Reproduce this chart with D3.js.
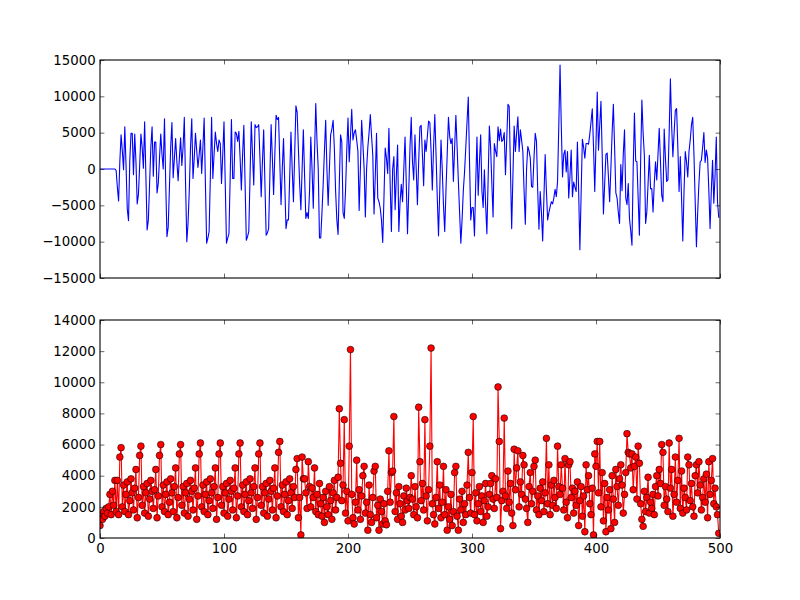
<!DOCTYPE html>
<html>
<head>
<meta charset="utf-8">
<script src="https://cdn.jsdelivr.net/npm/d3@7"></script>
<style>
  body { margin: 0; background: #fff; }
  svg { display: block; }
  .tick text { font-family: "DejaVu Sans", sans-serif; font-size: 13.3px; fill: #000; }
  .tick line { stroke: #000; stroke-width: 0.6; }
</style>
</head>
<body>
<svg id="chart" width="800" height="600"></svg>
<script>
// top panel signal, one value per sample
var topValues = [
  0,0,0,0,0,0,0,0,0,0,
  0,0,0,-200,-2500,-4400,1000,4700,2500,-100,
  5800,500,-5500,-7100,1000,4900,4900,-800,4800,1000,
  -4800,-3500,500,4800,3000,100,6500,-1000,-8400,-7000,
  -2000,3000,5800,-1000,3700,3700,-3300,-2000,1500,4800,
  2000,0,6900,-2000,-9300,-8000,-2500,3000,6400,-1200,
  1500,4200,1000,-1600,1500,4300,500,3000,7100,-2000,
  -10000,-7500,-3000,3000,6900,-1300,1500,4900,2500,200,
  2000,4000,-600,3000,7000,-2000,-10200,-9500,-8600,-1000,
  7100,-1300,2000,5100,3500,2400,4000,3500,-2000,2000,
  6500,-2000,-10200,-9500,-8900,-1000,6800,-1300,-1300,5100,
  4900,3800,5200,1500,-2900,2000,6000,-2000,-9800,-9300,
  -8600,-1000,6500,2000,-2200,6100,5700,5800,6100,1500,
  -3800,1000,5400,-2000,-9100,-8800,-8200,-1000,6100,1500,
  -3500,2000,7400,6800,7100,1000,-4900,0,4200,-2000,
  -8200,-7000,-7000,-1000,5100,0,-4500,2000,8700,7800,
  2800,-2000,-5600,0,5400,-1000,-6800,-6000,-6800,-3000,
  4400,0,-5400,2000,9000,3800,0,-9500,-9500,-6000,
  -2000,2500,6700,0,-5000,0,4700,5500,6700,2800,
  -3000,-7000,-9000,-2000,4700,3700,-6000,-6800,-3000,2500,
  7000,1000,4500,8200,4000,5000,5400,4000,2400,-5700,
  0,6700,3500,100,-6600,0,3000,5000,7500,4500,
  1900,-6200,-1000,4900,-4000,-4500,-5400,-7000,-10100,-4000,
  2900,1500,-600,5600,-2000,-8600,0,1700,-5600,-1000,
  3300,-8600,-4500,-2100,-4500,0,4400,-2000,-8900,-3000,
  3000,7100,1000,-1500,4700,0,-4900,1000,5800,6000,
  2000,-2300,4000,2400,4500,6600,6400,2500,-2900,3000,
  7500,2000,-4000,-9200,-3000,4000,0,-5000,-8600,-3000,
  2000,7100,4500,3500,4200,-1700,3000,7400,3000,-1700,
  -6000,-10200,-7000,-3000,-400,3000,6500,9900,1000,-7000,
  -5300,-5300,-9200,-2000,4400,-3600,1000,4700,-3000,-5300,
  -100,-5000,-8900,-1500,5900,3000,-2000,-6600,3500,2500,
  1700,5800,3900,5500,3800,4000,5000,-800,4000,8900,
  8600,0,-8200,-1000,5900,2400,5000,7200,2400,5400,
  4000,2400,-3000,-7600,0,3100,2500,1500,-2400,-2500,
  1500,4900,3800,-3000,-8300,-3100,-6000,-9900,-4000,2000,
  -3000,-7000,-6000,-5200,-4500,-4800,-4000,-2800,-3800,-1700,
  6000,14300,6000,-1100,2000,2600,-400,2400,-4000,-1000,
  2600,-3800,-1800,-2500,-3100,3700,-3000,-11100,-3500,4100,
  3000,1500,3500,3500,3400,4800,6500,8300,3000,-3100,
  3500,10600,2600,6000,9300,2000,-6200,-2000,2000,2200,
  -1000,-4500,0,5000,8900,3000,-3300,-4000,-6000,-7500,
  600,-3000,2000,5400,-4000,-4900,-2000,-6800,-8500,-10500,
  0,7700,1100,1000,-4000,-9100,1000,9500,5000,1900,
  -7500,-5900,-2000,1900,-2700,-2700,-5900,-2000,1000,-1500,
  2000,5600,1000,-3600,-4500,5500,1500,-1700,-1500,5000,
  12400,6000,1700,5000,8100,8300,3000,-3100,1700,-4000,
  -9900,-3000,2400,1000,-1100,2400,4000,6100,7100,2000,
  -4500,-10700,-6000,-2000,1000,1200,3000,5000,900,2600,
  1500,-3000,-8200,-3000,1200,-4700,-1000,4400,-4500,-6700
];

// bottom panel values (red markers)
var bottomValues = [
  800,1500,1200,1700,1400,1900,1600,2000,2800,1500,
  3000,2100,3700,1700,3700,1500,5200,5800,2000,3400,
  1700,2800,3600,1500,2400,3800,2900,1800,3200,4400,
  1300,2600,5300,5900,2100,3300,1600,2900,3500,1400,
  2500,3700,3000,1900,3100,4400,1300,2700,5300,6000,
  2000,3400,1700,2800,3600,1500,2300,3800,2900,1700,
  3300,4500,1300,2600,5400,6000,2100,3300,1600,2900,
  3500,1400,2500,3700,3000,1800,3200,4500,1200,2700,
  5400,6100,2000,3400,1700,2800,3600,1500,2400,3800,
  2900,1900,3300,4500,1200,2600,5400,6100,2100,3300,
  1600,2900,3500,1400,2500,3700,3000,1800,3200,4500,
  1300,2700,5400,6100,2000,3400,1700,2800,3600,1500,
  2400,3800,2900,1900,3300,4500,1200,2600,5400,6100,
  2100,3300,1600,2900,3500,1400,2500,3700,3000,1800,
  3200,4500,1300,2700,5500,6200,2000,3400,1700,2800,
  3600,1500,2400,3800,2900,1900,3300,2600,4400,5100,
  1300,2600,200,5200,3800,3800,2900,1900,4900,3300,
  2000,3200,2600,4500,1700,2800,1500,3500,2200,1400,
  2600,1000,3000,2000,1500,3300,2400,1200,2900,3700,
  1800,2600,3900,8300,4800,2400,3400,7600,1600,3000,
  1100,5900,12100,2800,1300,900,2300,5000,1800,3100,
  1200,2700,4000,4600,1600,2300,500,3400,1500,1000,
  2600,4300,4600,1300,2100,500,2500,1700,900,2200,
  1100,850,3000,5600,2300,4200,4300,7800,1700,2900,
  1200,3300,2200,1400,1000,2700,1800,3200,2400,1900,
  2600,4000,2500,1500,3300,2000,1300,8400,4900,2400,
  3500,1800,7600,2700,1100,3100,5900,12200,2200,1500,
  900,2600,4900,1900,3400,1300,2300,4600,1500,3100,
  500,2000,1200,2800,800,1700,4200,4600,1400,500,
  2500,1800,3000,1000,2200,1500,3400,5500,2600,1600,
  4200,7800,1500,2900,1100,2200,3300,1700,2700,1000,
  2400,3500,1400,2000,2800,3500,4000,2500,1900,3800,
  2600,9700,6200,600,2400,3000,7700,2700,1900,4300,
  2300,3500,1600,800,5700,3100,4500,5600,2000,3600,
  2800,5300,4700,2500,1900,1000,3300,4200,2200,3000,
  4600,5000,1800,2700,1500,3200,2400,3600,1700,2900,
  6400,2200,4700,1500,3400,2100,3700,2600,1900,5900,
  3300,2800,4700,3200,1800,5100,2300,1300,4700,4900,
  2600,3200,1600,3000,2100,3600,800,2400,3300,1400,
  2700,400,4700,3100,4000,2200,1500,3200,200,5400,
  4600,6200,2900,6200,2000,4200,1100,3500,400,2600,
  1800,3100,600,4000,2500,1000,4400,3300,2100,3800,
  4700,3400,1600,2800,4200,6700,5500,5400,4500,5400,
  3100,4600,5200,2500,5900,4800,2200,1200,750,3000,
  1700,2600,3900,1600,2300,1900,2800,1500,3300,4000,
  2700,4400,3500,6000,5500,2100,3300,2500,1700,6100,
  3200,4400,1400,2800,5200,2300,3700,6400,1900,4300,
  1600,3200,2600,1800,5200,4700,2400,3500,2000,1400,
  4000,4700,2900,4900,3400,1800,2600,3800,2300,4100,
  1300,4900,2800,3700,5100,2200,3200,2000,1500,300
];

var xTicks = [0, 100, 200, 300, 400, 500];
var topTicks = [-15000, -10000, -5000, 0, 5000, 10000, 15000];
var bottomTicks = [0, 2000, 4000, 6000, 8000, 10000, 12000, 14000];

var svg = d3.select("#chart");
var left = 100, right = 720;
var panels = [
  { id: "top", y0: 60, y1: 278, domain: [-15000, 15000], ticks: topTicks, labelsX: false },
  { id: "bottom", y0: 320, y1: 538, domain: [0, 14000], ticks: bottomTicks, labelsX: true }
];

var x = d3.scaleLinear().domain([0, 500]).range([left, right]);
var tickLen = 4.4, pad = 4.4;
var fmt = d3.format("d");

panels.forEach(function(p) {
  p.y = d3.scaleLinear().domain(p.domain).range([p.y1, p.y0]);

  svg.append("clipPath").attr("id", "clip-" + p.id)
    .append("rect")
    .attr("x", left).attr("y", p.y0)
    .attr("width", right - left).attr("height", p.y1 - p.y0);

  p.g = svg.append("g").attr("clip-path", "url(#clip-" + p.id + ")");
});

// top: blue line
var topPanel = panels[0];
var lineTop = d3.line()
  .x(function(d, i) { return x(i); })
  .y(function(d) { return topPanel.y(d); });
topPanel.g.append("path")
  .datum(topValues)
  .attr("fill", "none")
  .attr("stroke", "#0000ff")
  .attr("stroke-width", 1.1)
  .attr("stroke-linejoin", "round")
  .attr("d", lineTop);

// bottom: red line with circle markers
var botPanel = panels[1];
var lineBot = d3.line()
  .x(function(d, i) { return x(i); })
  .y(function(d) { return botPanel.y(d); });
botPanel.g.append("path")
  .datum(bottomValues)
  .attr("fill", "none")
  .attr("stroke", "#ff0000")
  .attr("stroke-width", 1.1)
  .attr("stroke-linejoin", "round")
  .attr("d", lineBot);
botPanel.g.selectAll("circle")
  .data(bottomValues)
  .enter().append("circle")
  .attr("cx", function(d, i) { return x(i); })
  .attr("cy", function(d) { return botPanel.y(d); })
  .attr("r", 3.4)
  .attr("fill", "#ff0000")
  .attr("stroke", "#000")
  .attr("stroke-width", 0.55);

// axes, ticks pointing inward on all four sides
panels.forEach(function(p) {
  svg.append("g")
    .attr("transform", "translate(" + left + ",0)")
    .call(d3.axisLeft(p.y).tickValues(p.ticks).tickFormat(fmt).tickSizeInner(-tickLen).tickSizeOuter(0).tickPadding(pad))
    .call(function(g) { g.select(".domain").remove(); });

  svg.append("g")
    .attr("transform", "translate(" + right + ",0)")
    .call(d3.axisRight(p.y).tickValues(p.ticks).tickSizeInner(-tickLen).tickSizeOuter(0).tickFormat(""))
    .call(function(g) { g.select(".domain").remove(); });

  svg.append("g")
    .attr("transform", "translate(0," + p.y0 + ")")
    .call(d3.axisTop(x).tickValues(xTicks).tickSizeInner(-tickLen).tickSizeOuter(0).tickFormat(""))
    .call(function(g) { g.select(".domain").remove(); });

  var bx = d3.axisBottom(x).tickValues(xTicks).tickSizeInner(-tickLen).tickSizeOuter(0)
    .tickPadding(pad + 1).tickFormat(p.labelsX ? fmt : "");
  svg.append("g")
    .attr("transform", "translate(0," + p.y1 + ")")
    .call(bx)
    .call(function(g) { g.select(".domain").remove(); });

  svg.append("rect")
    .attr("x", left).attr("y", p.y0)
    .attr("width", right - left).attr("height", p.y1 - p.y0)
    .attr("fill", "none")
    .attr("stroke", "#000")
    .attr("stroke-width", 1.1);
});
</script>
</body>
</html>
